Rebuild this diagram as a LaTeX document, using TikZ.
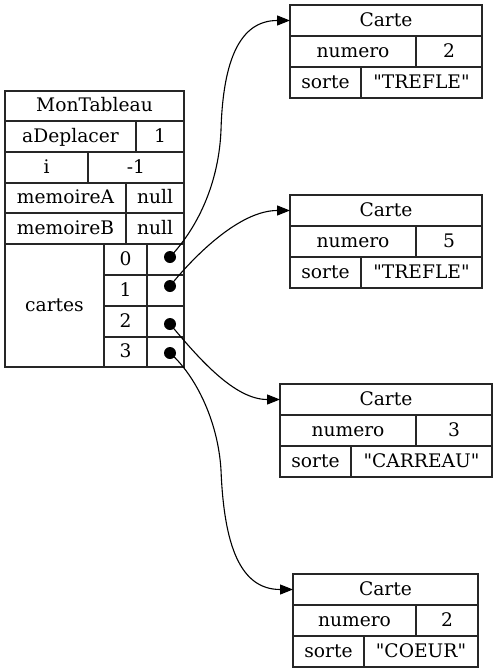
\documentclass[tikz,border=0pt]{standalone}
\usepackage{fontspec}
\setmainfont{DejaVu Serif}[Ligatures=TeXOff]
\usetikzlibrary{arrows.meta}
\tikzset{
  lbl/.style={font=\fontsize{18.67}{22}\selectfont, inner sep=0pt, anchor=base},
  tbl/.style={draw=black!85, line width=1.1pt},
  conn/.style={line width=1.1pt, -{Triangle[length=13pt,width=10pt]}},
  dotmark/.style={fill=black}
}
\newcommand\carte[8]{%
  \draw[tbl] (#2,#3) rectangle (#4,#3+93);
  \draw[tbl] (#2,#3+31) -- (#4,#3+31) (#2,#3+62) -- (#4,#3+62);
  \draw[tbl] (#5,#3+31) -- (#5,#3+62) (#6,#3+62) -- (#6,#3+93);
  \node[lbl] (#1t) at ({(#2+#4)/2},#3+21.2) {Carte};
  \node[lbl] (#1n) at ({(#2+#5)/2},#3+52.2) {numero};
  \node[lbl] (#1v) at ({(#5+#4)/2},#3+52.2) {#7};
  \node[lbl] (#1s) at ({(#2+#6)/2},#3+83.2) {sorte};
  \node[lbl] (#1w) at ({(#6+#4)/2},#3+83.2) {#8};
}
\begin{document}
\begin{tikzpicture}[x=1pt,y=-1pt]
\useasboundingbox (0,0) rectangle (497,672);
% main table
\draw[tbl] (5,91) rectangle (184,367);
\draw[tbl] (5,121) -- (184,121) (5,152) -- (184,152) (5,183) -- (184,183)
  (5,213) -- (184,213) (5,244) -- (184,244);
\draw[tbl] (136,121) -- (136,152) (88,152) -- (88,183) (126,183) -- (126,244);
\draw[tbl] (104,244) -- (104,367) (147,244) -- (147,367);
\draw[tbl] (104,275) -- (184,275) (104,306) -- (184,306) (104,337) -- (184,337);
\node[lbl] (mt) at (94.5,111.7) {MonTableau};
\node[lbl] (ad) at (70.5,142.2) {aDeplacer};
\node[lbl] (adv) at (160,142.2) {1};
\node[lbl] (ii) at (46.5,173.2) {i};
\node[lbl] (iv) at (136,173.2) {-1};
\node[lbl] (ma) at (65.5,203.7) {memoireA};
\node[lbl] (mav) at (155,203.7) {null};
\node[lbl] (mb) at (65.5,234.2) {memoireB};
\node[lbl] (mbv) at (155,234.2) {null};
\node[lbl] (ca) at (54.5,311.2) {cartes};
\node[lbl] (k0) at (125.5,265.2) {0};
\node[lbl] (k1) at (125.5,296.2) {1};
\node[lbl] (k2) at (125.5,327.2) {2};
\node[lbl] (k3) at (125.5,357.7) {3};
% dots
\coordinate (d0) at (170,257);
\coordinate (d1) at (170,286);
\coordinate (d2) at (170,324);
\coordinate (d3) at (170,353);
\foreach \d in {d0,d1,d2,d3} \fill[dotmark] (\d) circle[radius=6pt];
% cards
\carte{a}{290}{5}{482}{416}{361}{2}{"TREFLE"}
\carte{b}{290}{195}{482}{416}{361}{5}{"TREFLE"}
\carte{c}{280}{384}{492}{416}{351}{3}{"CARREAU"}
\carte{e}{293}{574}{478}{416}{364}{2}{"COEUR"}
\coordinate (c1) at (290,20.5);
\coordinate (c2) at (290,210.5);
\coordinate (c3) at (280,399.5);
\coordinate (c4) at (293,589.5);
% connectors
\draw[conn] (d0) .. controls (200,225) and (219,180) .. (221,130)
  .. controls (223,60) and (240,20.5) .. (c1);
\draw[conn] (d1) .. controls (195,255) and (240,210.5) .. (c2);
\draw[conn] (d2) .. controls (200,360) and (235,399.5) .. (c3);
\draw[conn] (d3) .. controls (195,375) and (218,420) .. (221,470)
  .. controls (224,545) and (240,589.5) .. (c4);
\end{tikzpicture}
\end{document}
